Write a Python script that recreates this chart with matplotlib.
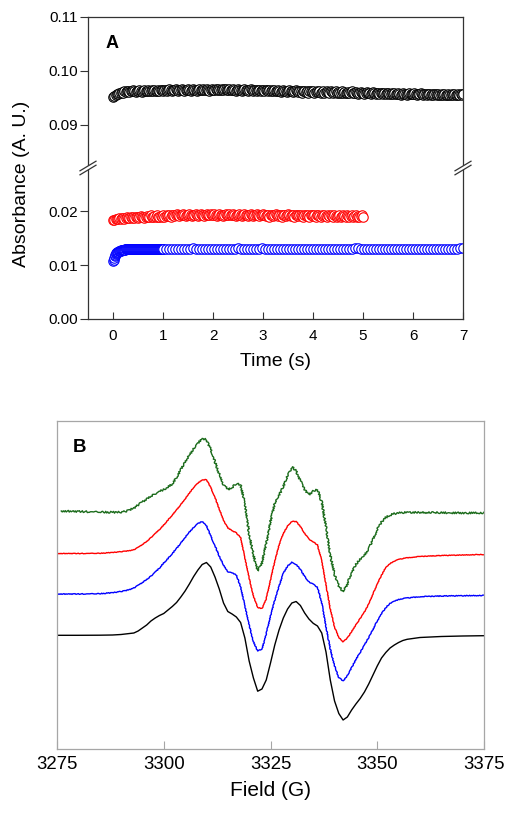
import numpy as np
import matplotlib

matplotlib.use("Agg")
import matplotlib.pyplot as plt
from matplotlib.lines import Line2D
from matplotlib.patches import Polygon

plt.rcParams["font.family"] = ["Liberation Sans", "DejaVu Sans"]

# ---------------------------------------------------------------------------
# Panel A: stopped-flow absorbance traces (values in units of 1e-4 A.U.)
# ---------------------------------------------------------------------------
black_dt = 0.025
black_abs = [
    952, 953, 955, 957, 958, 959, 960, 961, 960, 962, 961, 963, 962, 961, 963, 962, 964, 962, 961, 963,
    962, 964, 963, 961, 963, 964, 962, 963, 965, 963, 962, 964, 963, 965, 963, 962, 964, 963, 965, 964,
    963, 965, 964, 962, 964, 966, 964, 963, 965, 964, 966, 964, 963, 965, 964, 966, 965, 963, 965, 964,
    966, 965, 963, 965, 966, 964, 965, 963, 965, 966, 964, 965, 967, 965, 964, 966, 965, 963, 965, 966,
    965, 964, 966, 965, 967, 965, 964, 966, 965, 967, 966, 964, 965, 967, 965, 964, 966, 965, 963, 965,
    966, 964, 965, 963, 965, 966, 964, 965, 963, 964, 966, 964, 963, 965, 964, 962, 964, 965, 963, 964,
    964, 962, 964, 965, 963, 964, 962, 964, 963, 965, 963, 962, 964, 963, 961, 963, 964, 962, 963, 961,
    963, 964, 962, 963, 961, 962, 964, 962, 961, 963, 962, 960, 962, 963, 961, 962, 960, 962, 963, 961,
    962, 960, 961, 963, 961, 962, 960, 961, 962, 960, 961, 963, 961, 960, 962, 961, 959, 961, 962, 960,
    961, 959, 960, 962, 960, 961, 959, 960, 961, 959, 961, 962, 960, 959, 961, 960, 958, 960, 961, 959,
    960, 958, 960, 961, 959, 960, 958, 959, 961, 959, 958, 960, 959, 957, 959, 960, 958, 959, 957, 959,
    960, 958, 957, 959, 958, 960, 958, 957, 959, 958, 956, 958, 959, 957, 958, 956, 958, 959, 957, 958,
    957, 959, 958, 956, 958, 957, 959, 957, 956, 958, 957, 955, 957, 958, 956, 957, 955, 957, 958, 956,
    957, 955, 956, 958, 956, 957, 955, 956, 958, 956, 955, 957, 956, 958, 956, 955, 957, 956, 958, 956,
    957,
]

red_dt = 0.025
red_abs = [
    183, 184, 185, 186, 185, 187, 186, 188, 187, 186, 188, 189, 187, 188, 190, 188, 189, 187, 189, 190,
    188, 189, 191, 189, 190, 188, 190, 191, 189, 190, 192, 190, 189, 191, 190, 192, 190, 189, 191, 190,
    192, 190, 191, 193, 191, 192, 190, 192, 193, 191, 192, 194, 192, 191, 193, 192, 194, 192, 191, 193,
    192, 194, 193, 191, 193, 192, 194, 192, 191, 193, 194, 192, 193, 191, 193, 194, 192, 193, 195, 193,
    192, 194, 193, 191, 193, 194, 192, 193, 191, 193, 194, 192, 193, 195, 193, 192, 194, 193, 191, 193,
    192, 194, 193, 191, 192, 194, 192, 193, 191, 193, 194, 192, 191, 193, 192, 194, 192, 191, 193, 192,
    194, 192, 191, 193, 192, 190, 192, 193, 191, 192, 194, 192, 191, 193, 192, 190, 192, 193, 191, 192,
    194, 192, 191, 193, 192, 190, 192, 193, 191, 192, 193, 191, 190, 192, 193, 191, 192, 190, 192, 193,
    191, 192, 190, 192, 193, 191, 190, 192, 191, 193, 191, 190, 192, 191, 193, 191, 190, 192, 191, 189,
    191, 192, 190, 191, 193, 191, 190, 192, 191, 189, 191, 192, 190, 191, 192, 190, 191, 189, 191, 192,
    190,
]

# blue trace: fast sampling for the first second, slower afterwards
blue_fast_dt = 0.01
blue_fast_abs = [
    107, 110, 113, 116, 118, 120, 122, 123, 124, 125,
    125, 126, 126, 127, 127, 127, 128, 128, 128, 128,
    128, 128, 128, 129, 128, 129, 129, 129, 129, 129,
    129, 129, 129, 129, 130, 129, 129, 129, 130, 129,
    129, 130, 129, 129, 130, 129, 130, 129, 130, 130,
    129, 130, 130, 129, 130, 130, 130, 129, 130, 130,
    130, 130, 129, 130, 130, 130, 130, 130, 129, 130,
    130, 130, 130, 130, 130, 129, 130, 130, 130, 130,
    130, 130, 130, 130, 130, 130, 130, 129, 130, 130,
    130, 130, 130, 130, 130, 130, 130, 130, 130, 130,
]
blue_slow_start = 1.0
blue_slow_dt = 0.06
blue_slow_abs = [
    130, 130, 130, 130, 130, 130, 130, 130, 130, 130,
    131, 130, 130, 130, 130, 130, 130, 130, 130, 130,
    130, 130, 130, 130, 130, 131, 130, 130, 130, 130,
    130, 130, 130, 131, 130, 130, 130, 130, 130, 130,
    130, 130, 130, 130, 130, 130, 130, 130, 130, 130,
    130, 130, 130, 130, 130, 130, 130, 130, 130, 130,
    130, 130, 130, 130, 131, 131, 130, 130, 130, 130,
    130, 130, 130, 130, 130, 130, 130, 130, 129, 130,
    130, 130, 130, 130, 130, 130, 130, 130, 130, 130,
    130, 130, 130, 130, 130, 130, 130, 130, 130, 131,
    131,
]

# ---------------------------------------------------------------------------
# Panel B: EPR spectra (arbitrary intensity, offset for clarity)
# ---------------------------------------------------------------------------
field = [3275, 3280, 3285, 3288] + list(range(3290, 3358)) + [3360, 3365, 3370, 3375]
epr_black = [
    113.7, 113.7, 113.8, 114,
    114.5, 115, 115.5, 116, 118, 121, 124, 128, 131, 133.5,
    135.5, 139, 142.5, 146.5, 152, 158, 165, 172.5, 179, 184.5,
    186.5, 182, 172, 160, 146, 137.5, 135, 132, 126.5, 111,
    88, 71, 57.8, 60, 69, 86, 104, 119, 131, 140,
    146, 147.5, 143.5, 136, 130, 125.7, 123, 116, 97, 69,
    48, 35.5, 29, 32, 39, 45, 50.5, 57, 65, 74,
    83, 91, 96.5, 101, 104, 106.5, 108.5, 109.7,
    111.5, 112.5, 113, 113.3,
]
epr_blue = [
    155, 155, 155.3, 156.3,
    157.5, 158.3, 159.5, 161, 163.5, 166.5, 169.5, 173, 177, 181,
    186, 190.5, 195.5, 200.5, 206, 211.5, 217, 221.5, 225.5, 227.5,
    223.5, 213, 203, 193, 184, 177.5, 176, 174, 162, 143,
    124, 107.3, 98, 100, 115, 133, 149, 163, 175.7, 183,
    186.7, 184.5, 179.5, 172.5, 167, 164.7, 162, 146, 122, 100,
    83, 71.5, 68, 73.5, 81.5, 89.5, 96.5, 104, 111.5, 119.5,
    128, 135.5, 141.5, 145.5, 148, 149.5, 150.5, 151,
    152.3, 153, 153.3, 153.5,
]
epr_red = [
    195.5, 195.5, 195.7, 196.5,
    197.3, 197.8, 198.4, 199.2, 201.5, 204.5, 207.5, 211.5, 215.5, 219.5,
    224, 229, 234, 239, 244.5, 250, 256, 261.5, 266, 269,
    269.5, 261.5, 251.5, 240, 229, 221, 218.5, 216, 211.5, 191,
    171, 153, 141.5, 140.5, 150, 169, 188, 204, 215.5, 223,
    227.5, 227.5, 222.5, 215.5, 210, 207.3, 204, 188, 164, 140,
    122, 111.5, 107.3, 111, 117.5, 124, 130.5, 137, 145, 155,
    165, 174, 181.5, 185.5, 188, 189.5, 190.5, 191.2,
    192.5, 193.5, 194, 194.5,
]
field_green = [3276] + field[1:]
epr_green = [
    238, 237.5, 237, 236.7,
    236.8, 237.5, 239, 241, 244, 247, 250, 253, 255.5, 257.5,
    259.5, 262, 265, 271.5, 279.5, 287, 294, 300, 306, 310.5,
    309.5, 299.5, 287, 275, 264.5, 259.5, 261.5, 265.5, 264, 245,
    215, 194, 178, 186, 206, 228, 246, 253.5, 262.5, 273,
    282.5, 278, 268, 259.5, 254, 258, 259.5, 247, 222, 194,
    174, 163, 157, 165, 176.5, 185, 189.5, 194, 200.5, 209.5,
    219.5, 227, 231.5, 234, 235.3, 236, 236.4, 236.7,
    236.5, 236.3, 236, 236,
]

W, H = 515, 816
fig = plt.figure(figsize=(W / 100, H / 100), dpi=100)


def fx(px):
    return px / W


def fy(py):
    return 1 - py / H


# --- Panel A (broken y axis) ---
ax_top = fig.add_axes([fx(88), fy(168), fx(463) - fx(88), fy(17) - fy(168)])
ax_bot = fig.add_axes([fx(88), fy(319), fx(463) - fx(88), fy(168) - fy(319)])

dark = "#333333"
traces = [
    (black_dt, 0.0, black_abs, "black"),
    (red_dt, 0.0, red_abs, "#ff0000"),
    (blue_fast_dt, 0.0, blue_fast_abs, "#0000ff"),
    (blue_slow_dt, blue_slow_start, blue_slow_abs, "#0000ff"),
]
for ax in (ax_top, ax_bot):
    for dt, t0, vals, col in traces:
        t = t0 + dt * np.arange(len(vals))
        ax.plot(t, np.array(vals) * 1e-4, "o", ls="none", ms=6.8, mew=0.8,
                mfc="white", mec=col)
    ax.set_xlim(-0.5, 7)
    for s in ax.spines.values():
        s.set_color(dark)
        s.set_linewidth(0.9)
    ax.tick_params(axis="y", direction="out", length=6, width=0.8, color=dark,
                   labelsize=11, pad=1.5)

ax_top.set_ylim(0.082, 0.11)
ax_top.set_yticks([0.09, 0.10, 0.11])
ax_top.set_yticklabels(["0.09", "0.10", "0.11"])
ax_top.spines["bottom"].set_visible(False)
ax_top.tick_params(axis="x", bottom=False, labelbottom=False)

ax_bot.set_ylim(0.0, 0.028)
ax_bot.set_yticks([0.0, 0.01, 0.02])
ax_bot.set_yticklabels(["0.00", "0.01", "0.02"])
ax_bot.spines["top"].set_visible(False)
ax_bot.set_xticks(range(0, 8))
ax_bot.tick_params(axis="x", direction="in", length=5, width=0.8, color=dark,
                   labelsize=11, pad=7)

# break marks on both spines
for xs in (88, 463):
    gap = Polygon([(fx(xs - 8), fy(170.8)), (fx(xs + 8), fy(161.2)),
                   (fx(xs + 8), fy(165.2)), (fx(xs - 8), fy(174.8))],
                  closed=True, transform=fig.transFigure, facecolor="white",
                  edgecolor="none", zorder=5)
    fig.add_artist(gap)
    for dy in (0, 4):
        fig.add_artist(Line2D([fx(xs - 8), fx(xs + 8)],
                              [fy(170.8 + dy), fy(161.2 + dy)],
                              transform=fig.transFigure, color=dark, lw=0.9,
                              zorder=6))

fig.text(fx(22), fy(184), "Absorbance (A. U.)", rotation=90, ha="center",
         va="center", fontsize=14)
fig.text(fx(276), fy(361), "Time (s)", ha="center", va="center", fontsize=14)
fig.text(fx(112), fy(43), "A", ha="center", va="center", fontsize=13,
         fontweight="bold")

# --- Panel B ---
axb = fig.add_axes([fx(57), fy(749), fx(484) - fx(57), fy(421) - fy(749)])
axb.plot(field, epr_black, color="black", lw=1.0)
b, = axb.plot(field, epr_blue, color="#0000ff", lw=1.0)
r, = axb.plot(field, epr_red, color="#ff0000", lw=1.0)
g, = axb.plot(field_green, epr_green, color="#1b6b1b", lw=1.0)
b.set_sketch_params(scale=0.4, length=2, randomness=2)
r.set_sketch_params(scale=0.3, length=2, randomness=2)
g.set_sketch_params(scale=0.9, length=2, randomness=2)

axb.set_xlim(3275, 3375)
axb.set_ylim(0, 328)
axb.set_xticks([3275, 3300, 3325, 3350, 3375])
axb.set_yticks([])
for s in axb.spines.values():
    s.set_color("#a6a6a6")
    s.set_linewidth(0.9)
axb.tick_params(axis="x", direction="in", length=5.5, width=0.8,
                color="#a6a6a6", labelsize=13.4, pad=5)

fig.text(fx(270), fy(791), "Field (G)", ha="center", va="center", fontsize=15)
fig.text(fx(79), fy(447), "B", ha="center", va="center", fontsize=13.4,
         fontweight="bold")

fig.savefig("out.png", dpi=100)
